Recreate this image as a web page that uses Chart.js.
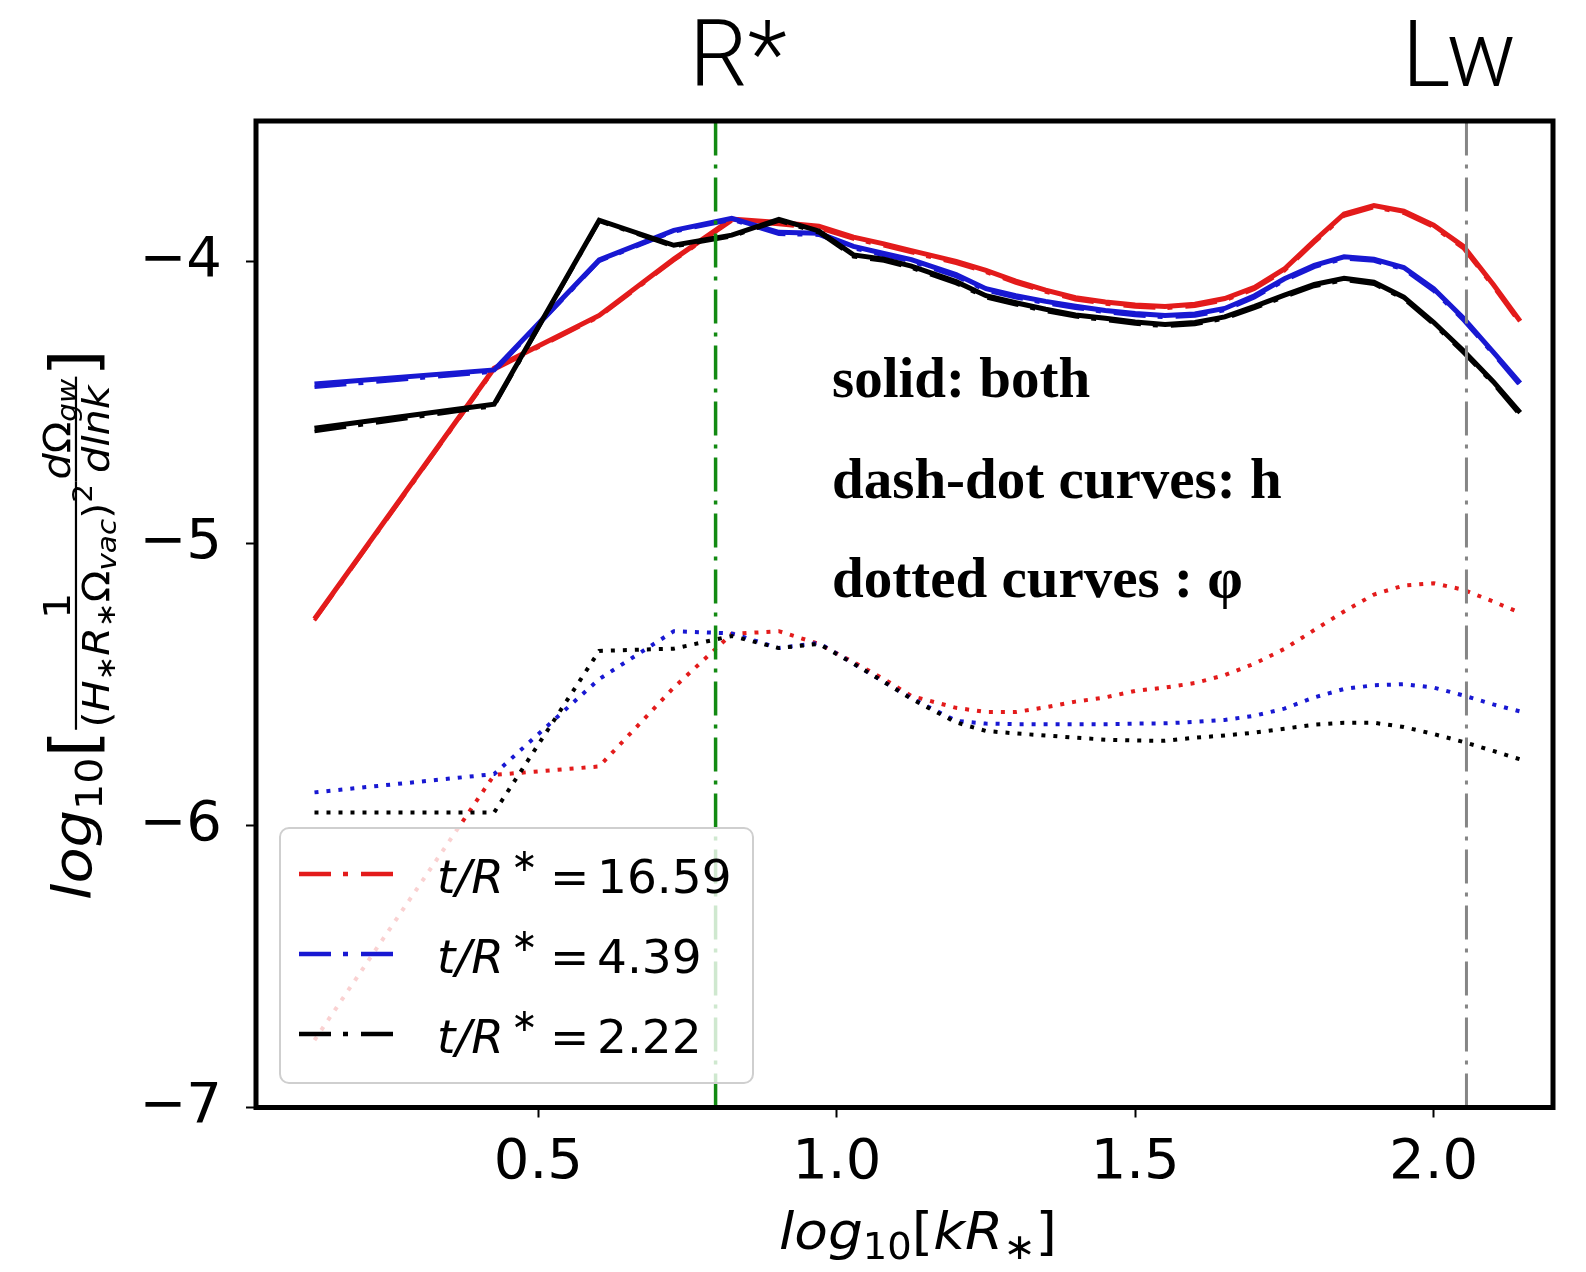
<!DOCTYPE html>
<html><head><meta charset="utf-8">
<script src="https://cdn.jsdelivr.net/npm/chart.js@4.4.1/dist/chart.umd.min.js"></script>
<style>html,body{margin:0;padding:0;background:#fff;}canvas{display:block;}</style>
</head><body>
<canvas id="c" width="1586" height="1272"></canvas>
<script>
// ---- data ----
const xVals = [0.125, 0.426, 0.602, 0.727, 0.824, 0.903, 0.970, 1.028, 1.079, 1.125, 1.20, 1.25, 1.30, 1.35, 1.40, 1.45, 1.50, 1.55, 1.60, 1.65, 1.70, 1.75, 1.80, 1.85, 1.90, 1.95, 2.00, 2.05, 2.10, 2.145];
const redBoth = [-5.267, -4.377, -4.19, -3.99, -3.848, -3.86, -3.873, -3.912, -3.936, -3.96, -3.998, -4.03, -4.068, -4.10, -4.127, -4.142, -4.153, -4.158, -4.15, -4.13, -4.09, -4.025, -3.925, -3.83, -3.80, -3.82, -3.87, -3.945, -4.08, -4.21];
const redH = [-5.272, -4.383, -4.195, -3.995, -3.855, -3.867, -3.881, -3.919, -3.943, -3.967, -4.005, -4.037, -4.075, -4.107, -4.134, -4.149, -4.160, -4.165, -4.157, -4.137, -4.097, -4.032, -3.932, -3.837, -3.807, -3.827, -3.877, -3.953, -4.088, -4.22];
const redPhi = [-6.761, -5.82, -5.79, -5.51, -5.32, -5.31, -5.355, -5.42, -5.48, -5.54, -5.582, -5.597, -5.597, -5.58, -5.56, -5.545, -5.522, -5.51, -5.494, -5.466, -5.425, -5.373, -5.306, -5.24, -5.18, -5.148, -5.14, -5.163, -5.205, -5.245];
const blueBoth = [-4.433, -4.383, -3.993, -3.888, -3.845, -3.895, -3.898, -3.945, -3.97, -3.992, -4.045, -4.095, -4.12, -4.14, -4.157, -4.172, -4.183, -4.19, -4.185, -4.165, -4.12, -4.06, -4.012, -3.982, -3.99, -4.02, -4.095, -4.20, -4.32, -4.43];
const blueH = [-4.445, -4.39, -3.998, -3.893, -3.851, -3.902, -3.905, -3.952, -3.977, -3.999, -4.052, -4.102, -4.127, -4.147, -4.164, -4.179, -4.19, -4.197, -4.192, -4.172, -4.127, -4.067, -4.019, -3.989, -3.997, -4.027, -4.103, -4.208, -4.328, -4.44];
const bluePhi = [-5.882, -5.817, -5.48, -5.31, -5.318, -5.37, -5.352, -5.425, -5.49, -5.548, -5.628, -5.638, -5.64, -5.64, -5.64, -5.64, -5.638, -5.637, -5.632, -5.625, -5.61, -5.585, -5.545, -5.515, -5.502, -5.498, -5.51, -5.538, -5.57, -5.595];
const blackBoth = [-4.59, -4.505, -3.852, -3.941, -3.905, -3.849, -3.89, -3.975, -3.99, -4.015, -4.07, -4.12, -4.145, -4.168, -4.188, -4.20, -4.213, -4.222, -4.215, -4.195, -4.158, -4.118, -4.08, -4.058, -4.072, -4.125, -4.214, -4.315, -4.425, -4.535];
const blackH = [-4.602, -4.512, -3.856, -3.946, -3.91, -3.855, -3.897, -3.982, -3.997, -4.022, -4.077, -4.127, -4.152, -4.175, -4.195, -4.207, -4.22, -4.229, -4.222, -4.202, -4.165, -4.125, -4.087, -4.065, -4.079, -4.132, -4.222, -4.323, -4.433, -4.545];
const blackPhi = [-5.953, -5.953, -5.38, -5.372, -5.327, -5.37, -5.355, -5.425, -5.49, -5.55, -5.634, -5.664, -5.673, -5.68, -5.688, -5.695, -5.698, -5.699, -5.688, -5.68, -5.67, -5.656, -5.642, -5.635, -5.635, -5.65, -5.675, -5.703, -5.735, -5.765];
const xTickVals = [0.5, 1.0, 1.5, 2.0];
const yTickVals = [-7, -6, -5, -4];
const xRange = [0.027, 2.2];
const yRange = [-7, -3.5];
const refLineX = [0.797, 2.055];          // R*, Lw
const refLineNames = ['R*', 'Lw'];
const legendValues = ['16.59', '4.39', '2.22'];
const notes = ['solid: both', 'dash-dot curves: h', 'dotted curves : φ'];

// ---- styles ----
const RED = '#e31b1b', BLUE = '#1818d2', BLACK = '#000000', GREEN = '#128a12', GRAY = '#858585';
const DASHDOT = [32, 12, 5, 13];
const DOT = [4, 8];
const VDASH = [34, 9, 4, 9];

function pts(ys) { return xVals.map((x, i) => ({ x: x, y: ys[i] })); }
function vline(x) { return [{ x: x, y: yRange[0] }, { x: x, y: yRange[1] }]; }

function series(color, both, h, phi, order) {
  return [
    { data: pts(both), borderColor: color, borderWidth: 5, order: order },
    { data: pts(h), borderColor: color, borderWidth: 3.5, borderDash: DASHDOT, order: order },
    { data: pts(phi), borderColor: color, borderWidth: 4, borderDash: DOT, order: order }
  ];
}

const datasets = [
  { data: vline(refLineX[0]), borderColor: GREEN, borderWidth: 3.5, borderDash: VDASH, order: 0 },
  { data: vline(refLineX[1]), borderColor: GRAY, borderWidth: 3, borderDash: VDASH, order: 0 },
  ...series(BLACK, blackBoth, blackH, blackPhi, 1),
  ...series(BLUE, blueBoth, blueH, bluePhi, 2),
  ...series(RED, redBoth, redH, redPhi, 3)
];

// ---- rich text helpers ----
function fnt(r) { return (r.b ? 'bold ' : '') + (r.i ? 'italic ' : '') + r.s + 'px "DejaVu Sans"'; }
function runsW(ctx, runs) { let w = 0; for (const r of runs) { ctx.font = fnt(r); w += ctx.measureText(r.t).width; } return w; }
function drawRuns(ctx, runs, x, y) {
  for (const r of runs) { ctx.font = fnt(r); ctx.fillText(r.t, x, y + (r.dy || 0)); x += ctx.measureText(r.t).width; }
}
function itemsW(ctx, items) {
  let w = 0;
  for (const it of items) {
    if (it.runs) w += runsW(ctx, it.runs);
    else w += Math.max(runsW(ctx, it.num), runsW(ctx, it.den)) + 2 * (it.pad || 3);
  }
  return w;
}
function drawItems(ctx, items, barY, gapN, gapD) {
  let x = 0;
  for (const it of items) {
    if (it.runs) { drawRuns(ctx, it.runs, x, 0); x += runsW(ctx, it.runs); }
    else {
      const nw = runsW(ctx, it.num), dw = runsW(ctx, it.den), p = it.pad || 3;
      const w = Math.max(nw, dw) + 2 * p;
      ctx.fillRect(x, barY - 1, w, 2.2);
      drawRuns(ctx, it.num, x + (w - nw) / 2, barY - gapN);
      drawRuns(ctx, it.den, x + (w - dw) / 2, barY + gapD);
      x += w;
    }
  }
}

const deco = {
  id: 'deco',
  afterDatasetsDraw(chart) {
    const ctx = chart.ctx, a = chart.chartArea;
    ctx.save();
    ctx.textBaseline = 'alphabetic';
    ctx.fillStyle = '#000';

    // annotation texts
    ctx.font = 'bold 57px "Liberation Serif", "Times New Roman", serif';
    ctx.textAlign = 'left';
    const noteY = [397, 498, 597];
    notes.forEach((t, i) => ctx.fillText(t, 832, noteY[i]));

    // legend
    ctx.beginPath();
    ctx.roundRect(280, 828, 473, 255, 9);
    ctx.fillStyle = 'rgba(255,255,255,0.8)';
    ctx.fill();
    ctx.lineWidth = 2; ctx.strokeStyle = '#cfcfcf'; ctx.stroke();
    const cols = [RED, BLUE, BLACK];
    for (let i = 0; i < 3; i++) {
      const ly = 874 + 80 * i;
      ctx.save();
      ctx.strokeStyle = cols[i]; ctx.lineWidth = 4.5; ctx.setLineDash(DASHDOT);
      ctx.beginPath(); ctx.moveTo(299, ly); ctx.lineTo(393, ly); ctx.stroke();
      ctx.restore();
      const by = ly + 19;
      ctx.fillStyle = '#000';
      ctx.font = 'italic 47px "DejaVu Sans"';
      ctx.fillText('t/R', 437, by);
      ctx.font = '32px "DejaVu Sans"';
      ctx.fillText('∗', 511, by - 22);
      ctx.font = '47px "DejaVu Sans"';
      ctx.fillText('=', 550, by);
      ctx.fillText(legendValues[i], 597, by);
    }

    // frame
    ctx.lineWidth = 5; ctx.strokeStyle = '#000'; ctx.setLineDash([]);
    ctx.strokeRect(a.left, a.top, a.right - a.left, a.bottom - a.top);

    // top labels
    ctx.fillStyle = '#000';
    ctx.font = '300 92px Roboto, "Open Sans", sans-serif';
    ctx.textAlign = 'center';
    ctx.fillText(refLineNames[0], 738, 86);
    ctx.fillText(refLineNames[1], 1459, 86);
    ctx.textAlign = 'left';

    // x title
    let F = 52;
    const xItems = [{ runs: [
      { t: 'log', s: F, i: 1 }, { t: '10', s: F * 0.7, dy: F * 0.2 }, { t: '[', s: F },
      { t: 'kR', s: F, i: 1 }, { t: '∗', s: F * 0.7, dy: F * 0.2 }, { t: ']', s: F }] }];
    let W = itemsW(ctx, xItems);
    ctx.save();
    ctx.translate(779, 1249);
    ctx.scale(278 / W, 1);
    drawItems(ctx, xItems, 0, 0, 0);
    ctx.restore();

    // y title (rotated)
    F = 54;
    const s7 = F * 0.7, s5 = F * 0.5;
    const yItems = [
      { runs: [{ t: 'log', s: F, i: 1 }, { t: '10', s: s7, dy: F * 0.2 }] },
      { runs: [{ t: '[', s: F * 1.2, dy: F * 0.1 }] },
      { num: [{ t: '1', s: s7 }],
        den: [{ t: '(', s: s7 }, { t: 'H', s: s7, i: 1 }, { t: '∗', s: s5, dy: F * 0.1 }, { t: 'R', s: s7, i: 1 },
              { t: '∗', s: s5, dy: F * 0.1 }, { t: 'Ω', s: s7 }, { t: 'vac', s: s5, i: 1, dy: F * 0.12 },
              { t: ')', s: s7 }, { t: '2', s: s5, dy: -F * 0.32 }], pad: 2 },
      { num: [{ t: 'd', s: s7, i: 1 }, { t: 'Ω', s: s7 }, { t: 'gw', s: s5, i: 1, dy: F * 0.12 }],
        den: [{ t: 'dlnk', s: s7, i: 1 }], pad: 2 },
      { runs: [{ t: ']', s: F * 1.2, dy: F * 0.1 }] }
    ];
    W = itemsW(ctx, yItems);
    ctx.save();
    ctx.translate(91, 900);
    ctx.rotate(-Math.PI / 2);
    ctx.scale(551 / W, 1);
    drawItems(ctx, yItems, -F * 0.28, 6, 6 + s7 * 0.73);
    ctx.restore();

    ctx.restore();
  }
};

new Chart(document.getElementById('c'), {
  type: 'line',
  data: { datasets: datasets },
  options: {
    responsive: false,
    animation: false,
    devicePixelRatio: 1,
    layout: { padding: { left: 0, right: 33, top: 121, bottom: 0 } },
    plugins: { legend: { display: false }, tooltip: { enabled: false } },
    elements: { point: { radius: 0 }, line: { tension: 0, borderCapStyle: 'butt', fill: false } },
    scales: {
      x: {
        type: 'linear', min: xRange[0], max: xRange[1],
        afterBuildTicks: s => { s.ticks = xTickVals.map(v => ({ value: v })); },
        afterFit: s => { s.height = 1272 - 1107.5; },
        ticks: { color: '#000', font: { family: 'DejaVu Sans', size: 56 }, padding: 12, maxRotation: 0, autoSkip: false,
                 callback: v => Number(v).toFixed(1) },
        grid: { display: true, drawOnChartArea: false, drawTicks: true, tickLength: 10, tickWidth: 2, tickColor: '#000' },
        border: { display: false }
      },
      y: {
        type: 'linear', min: yRange[0], max: yRange[1],
        afterBuildTicks: s => { s.ticks = yTickVals.map(v => ({ value: v })); },
        afterFit: s => { s.width = 256; },
        ticks: { color: '#000', font: { family: 'DejaVu Sans', size: 56 }, padding: 24, autoSkip: false,
                 callback: v => '\u2212' + Math.abs(v) },
        grid: { display: true, drawOnChartArea: false, drawTicks: true, tickLength: 10, tickWidth: 2, tickColor: '#000' },
        border: { display: false }
      }
    }
  },
  plugins: [deco]
});
</script>
</body></html>
